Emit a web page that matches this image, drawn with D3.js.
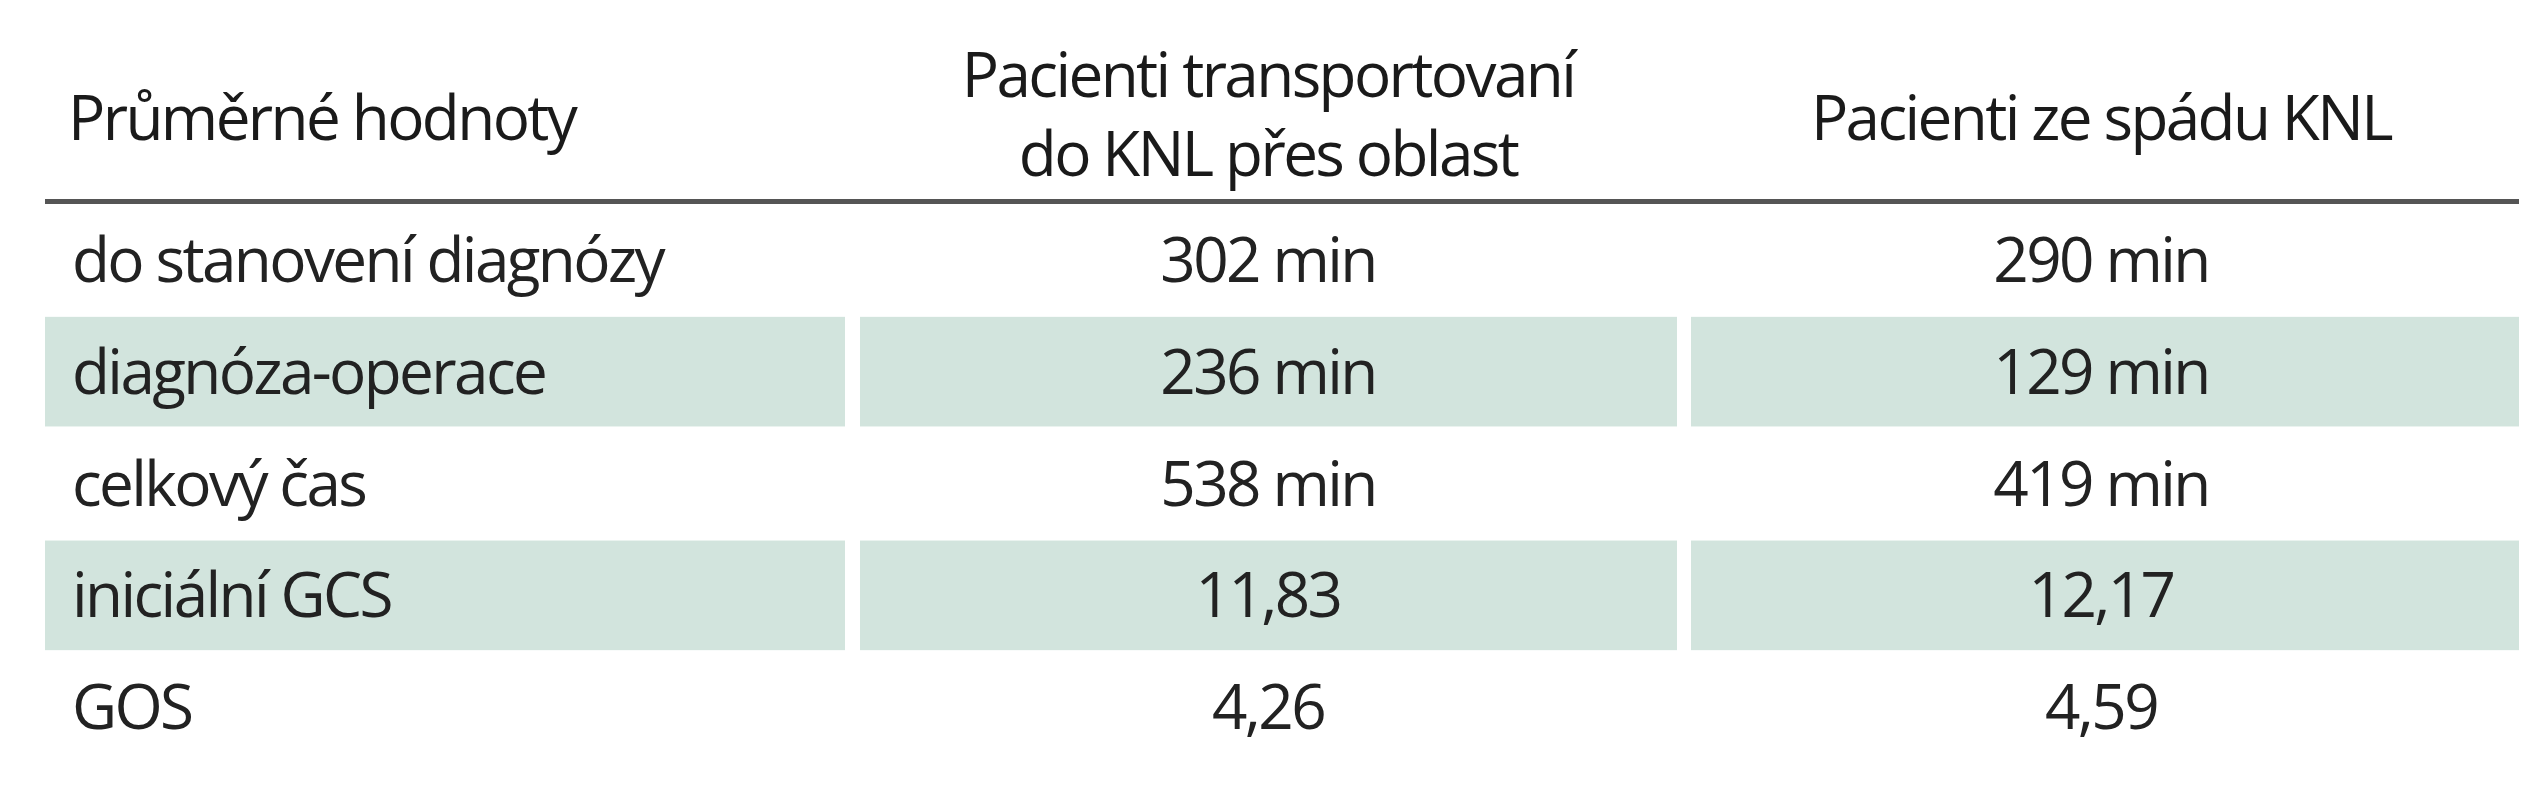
<!DOCTYPE html>
<html><head><meta charset="utf-8">
<script src="https://cdn.jsdelivr.net/npm/d3@7"></script>
<style>body{margin:0;background:#fff}</style></head>
<body><svg id="c" width="2540" height="800"></svg>
<script>
const headers = [["Průměrné hodnoty"], ["Pacienti transportovaní", "do KNL přes oblast"], ["Pacienti ze spádu KNL"]];
const rowLabels = ["do stanovení diagnózy", "diagnóza-operace", "celkový čas", "iniciální GCS", "GOS"];
const transported = ["302 min", "236 min", "538 min", "11,83", "4,26"];
const local = ["290 min", "129 min", "419 min", "12,17", "4,59"];

const svg = d3.select("#c");
const font = "'Open Sans', sans-serif";
const fs = 62, ls = -2.6;
const colX = [[45, 845], [860, 1677], [1691, 2519]];
const y = d3.scaleBand().domain(d3.range(rowLabels.length)).range([205, 762]).paddingInner(0.02);

function txt(x, yy, t, anchor, col) {
  svg.append("text").attr("x", x).attr("y", yy).attr("text-anchor", anchor || "start")
    .attr("font-family", font).attr("font-size", fs).attr("fill", col || "#222")
    .attr("letter-spacing", ls).text(t);
}
txt(68, 140, headers[0][0], "start", "#1a1a1a");
headers[1].forEach((t, i) => txt(1268, 97 + i * 79, t, "middle", "#1a1a1a"));
txt(2101, 140, headers[2][0], "middle", "#1a1a1a");
svg.append("rect").attr("x", 45).attr("y", 199).attr("width", 2474).attr("height", 5).attr("fill", "#555");

rowLabels.forEach((lab, i) => {
  if (i % 2 === 1) colX.forEach(([a, b]) => svg.append("rect").attr("x", a).attr("y", y(i))
    .attr("width", b - a).attr("height", y.bandwidth()).attr("fill", "#d2e4dd"));
  const cy = y(i) + y.bandwidth() / 2 + 22;
  txt(72, cy, lab);
  txt(1268, cy, transported[i], "middle");
  txt(2101, cy, local[i], "middle");
});
</script></body></html>
